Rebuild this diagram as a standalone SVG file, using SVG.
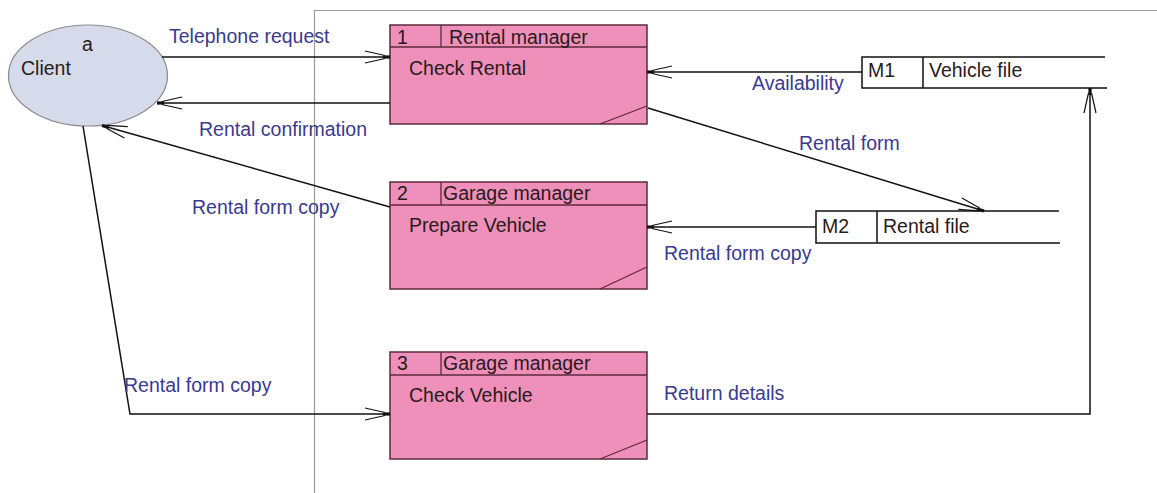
<svg xmlns="http://www.w3.org/2000/svg" width="1157" height="493" viewBox="0 0 1157 493">
<style>
text{font-family:"Liberation Sans",Arial,sans-serif;font-size:19.5px}
.lbl{fill:#3a3a8e}
.nt{fill:#2a1a1a}
.box{fill:#ee90ba;stroke:#5e2a3c;stroke-width:1.5}
.in{stroke:#5e2a3c;stroke-width:1.3;fill:none}
.st{stroke:#111;stroke-width:1.5;fill:none}
.c{stroke:#111;stroke-width:1.5;fill:none;marker-end:url(#arr)}
.frame{stroke:#9a9a9a;stroke-width:1.2;fill:none}
</style>
<defs>
<marker id="arr" markerUnits="userSpaceOnUse" markerWidth="30" markerHeight="16" viewBox="-27 -8 30 16" refX="0" refY="0" orient="auto" overflow="visible">
<path d="M-25,-6 L-5,-1.5 M-25,6 L-5,1.5" stroke="#111" stroke-width="1.2" fill="none"/>
<rect x="-7" y="-1.6" width="7" height="3.2" fill="#111"/>
</marker>
</defs>
<rect width="1157" height="493" fill="#fff"/>
<path class="frame" d="M314.5,493 V10.5 H1157"/>

<g id="client">
<ellipse cx="88" cy="75.5" rx="79.5" ry="50.5" fill="#d5dbea" stroke="#8a8a8a" stroke-width="1.2"/>
<text class="nt" x="82" y="51">a</text>
<text class="nt" x="21" y="75">Client</text>
</g>

<g id="p1">
<rect class="box" x="390" y="25" width="257" height="99"/>
<path class="in" d="M390,47 H647 M441,25 V47 M600,124 L647,106"/>
<text class="nt" x="397" y="44">1</text>
<text class="nt" x="449" y="44">Rental manager</text>
<text class="nt" x="409" y="75">Check Rental</text>
</g>

<g id="p2">
<rect class="box" x="390" y="182" width="257" height="107"/>
<path class="in" d="M390,205 H647 M441,182 V205 M600,289 L647,267"/>
<text class="nt" x="397" y="200">2</text>
<text class="nt" x="443" y="200">Garage manager</text>
<text class="nt" x="409" y="232">Prepare Vehicle</text>
</g>

<g id="p3">
<rect class="box" x="390" y="352" width="257" height="107"/>
<path class="in" d="M390,375 H647 M441,352 V375 M600,459 L647,440"/>
<text class="nt" x="397" y="370">3</text>
<text class="nt" x="443" y="370">Garage manager</text>
<text class="nt" x="409" y="402">Check Vehicle</text>
</g>

<g id="m1">
<path class="st" d="M1105,57 H862 V88 H1107 M923,57 V88"/>
<text class="nt" x="868" y="77">M1</text>
<text class="nt" x="929" y="77">Vehicle file</text>
</g>

<g id="m2">
<path class="st" d="M1059,211 H816 V243 H1060 M877,211 V243"/>
<text class="nt" x="822" y="233">M2</text>
<text class="nt" x="883" y="233">Rental file</text>
</g>

<g id="connectors">
<path class="c" d="M162,57 H390"/>
<text class="lbl" x="169" y="43">Telephone request</text>
<path class="c" d="M390,103 H157"/>
<text class="lbl" x="199" y="136">Rental confirmation</text>
<path class="c" d="M390,207 L102,125.5"/>
<text class="lbl" x="192" y="214">Rental form copy</text>
<path class="c" d="M83,126 L130,414 H390"/>
<text class="lbl" x="124" y="392">Rental form copy</text>
<path class="c" d="M862,72 H647"/>
<text class="lbl" x="752" y="90">Availability</text>
<path class="c" d="M648,108 L984,211"/>
<text class="lbl" x="799" y="150">Rental form</text>
<path class="c" d="M816,227 H647"/>
<text class="lbl" x="664" y="260">Rental form copy</text>
<path class="c" d="M647,414 H1090 V88"/>
<text class="lbl" x="664" y="400">Return details</text>
</g>
</svg>
